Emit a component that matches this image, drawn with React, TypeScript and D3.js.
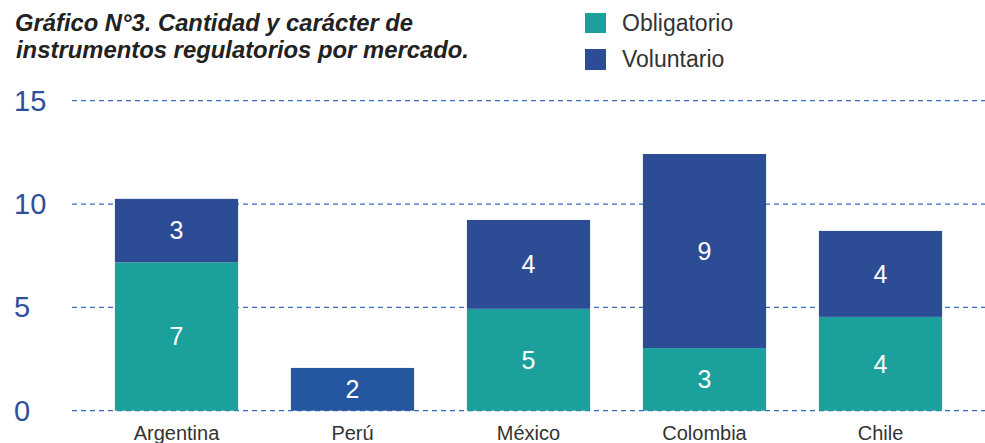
import * as d3 from 'd3';

// values (bar heights), and the printed labels
const markets = ['Argentina', 'Perú', 'México', 'Colombia', 'Chile'];
const obligatorio = [7.18, 0, 4.93, 3.03, 4.54];
const voluntario = [3.07, 2.07, 4.3, 9.39, 4.16];
const obligatorioLabels = ['7', '', '5', '3', '4'];
const voluntarioLabels = ['3', '2', '4', '9', '4'];
const yTicks = [0, 5, 10, 15];

const W = 985;
const H = 443;
const TEAL = '#1ca09b';
const BLUE = '#2c4c96';
const BLUE_PERU = '#2556a0';
const FONT = 'Liberation Sans, Arial, Helvetica, sans-serif';

export default function App() {
  const x = d3.scaleBand<string>()
    .domain(markets)
    .range([88.5, 968.5])
    .paddingInner(0.3)
    .paddingOuter(0.15);

  const y = d3.scaleLinear().domain([0, 15]).range([410.7, 100.7]);

  const rows = markets.map((m, i) => ({
    market: m,
    obl: obligatorio[i],
    vol: voluntario[i],
    oblLabel: obligatorioLabels[i],
    volLabel: voluntarioLabels[i],
  }));

  return (
    <svg width={W} height={H} style={{ position: 'absolute', left: 0, top: 0 }} fontFamily={FONT}>
      <rect width={W} height={H} fill="#fff" />

      {/* title */}
      <text x={15} y={31} fontSize={23.5} fontWeight="bold" fontStyle="italic" fill="#222"
        textLength={398} lengthAdjust="spacingAndGlyphs">
        Gráfico N°3. Cantidad y carácter de
      </text>
      <text x={16} y={58} fontSize={23.5} fontWeight="bold" fontStyle="italic" fill="#222"
        textLength={453} lengthAdjust="spacingAndGlyphs">
        instrumentos regulatorios por mercado.
      </text>

      {/* legend */}
      <rect x={585} y={13} width={21} height={20} fill={TEAL} />
      <text x={622} y={31} fontSize={23} fill="#333">Obligatorio</text>
      <rect x={585} y={49} width={21} height={21} fill={BLUE} />
      <text x={622} y={67} fontSize={23} fill="#333">Voluntario</text>

      {/* grid + y labels */}
      {yTicks.map(t => (
        <g key={t}>
          <line x1={72} x2={W} y1={y(t)} y2={y(t)} stroke="#3a68bd" strokeWidth={1.3} strokeDasharray="5,4" />
          <text x={14} y={y(t) + 10} fontSize={29} fill="#2d4f9e">{t}</text>
        </g>
      ))}

      {/* bars */}
      {rows.map(d => {
        const x0 = x(d.market) as number;
        const bw = x.bandwidth();
        const yObl = y(d.obl);
        const yTop = y(d.obl + d.vol);
        return (
          <g key={d.market}>
            {d.obl > 0 && (
              <rect x={x0} y={yObl} width={bw} height={y(0) - yObl} fill={TEAL} />
            )}
            <rect x={x0} y={yTop} width={bw} height={yObl - yTop}
              fill={d.market === 'Perú' ? BLUE_PERU : BLUE} />
            {d.oblLabel && (
              <text x={x0 + bw / 2} y={(yObl + y(0)) / 2} dy="0.35em" textAnchor="middle" fontSize={25} fill="#fff">
                {d.oblLabel}
              </text>
            )}
            <text x={x0 + bw / 2} y={(yTop + yObl) / 2} dy="0.35em" textAnchor="middle" fontSize={25} fill="#fff">
              {d.volLabel}
            </text>
            <text x={x0 + bw / 2} y={440} textAnchor="middle" fontSize={20} fill="#333">
              {d.market}
            </text>
          </g>
        );
      })}
    </svg>
  );
}
